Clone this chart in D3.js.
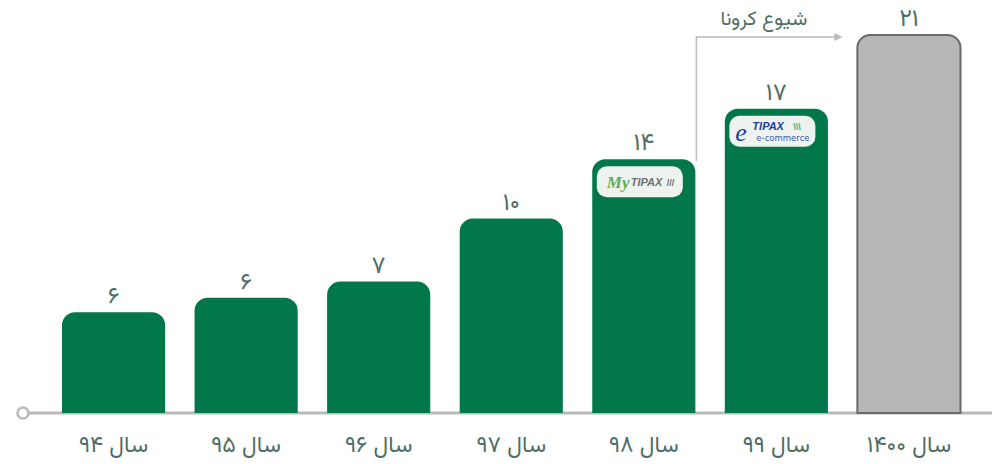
<!DOCTYPE html>
<html>
<head>
<meta charset="utf-8">
<script src="https://cdn.jsdelivr.net/npm/d3@7/dist/d3.min.js"></script>
<style>
  html, body { margin: 0; padding: 0; background: #ffffff; }
  svg { display: block; }
  text { font-family: "Vazirmatn", "Noto Sans Arabic", "DejaVu Sans", sans-serif; }
</style>
</head>
<body>
<div id="chart"></div>
<script>
// ---- data ----
const categories = ["سال ۹۴", "سال ۹۵", "سال ۹۶", "سال ۹۷", "سال ۹۸", "سال ۹۹", "سال ۱۴۰۰"];
const valueLabels = ["۶", "۶", "۷", "۱۰", "۱۴", "۱۷", "۲۱"];
const values = [6, 6, 7, 10, 14, 17, 21];
// bar heights as drawn in the picture (data units)
const drawnValues = [5.6, 6.4, 7.3, 10.8, 14.1, 16.9, 21];
const logos = [null, null, null, null, "mytipax", "etipax", null];
const annotationText = "شیوع کرونا";

const W = 992, H = 464;
const svg = d3.select("#chart").append("svg").attr("width", W).attr("height", H);

const x = d3.scaleBand().domain(categories).range([62, 960.5]).paddingInner(0.222).paddingOuter(0);
const y = d3.scaleLinear().domain([0, 21]).range([413, 35]);

const textColor = "#4e6d65";
const green = "#02784a";
const r = 13;

function topRounded(x0, y0, w, h, rr) {
  const p = d3.path();
  p.moveTo(x0, y0 + h);
  p.lineTo(x0, y0 + rr);
  p.arcTo(x0, y0, x0 + rr, y0, rr);
  p.lineTo(x0 + w - rr, y0);
  p.arcTo(x0 + w, y0, x0 + w, y0 + rr, rr);
  p.lineTo(x0 + w, y0 + h);
  p.closePath();
  return p.toString();
}

// baseline
svg.append("line")
  .attr("x1", 28).attr("x2", W).attr("y1", y(0)).attr("y2", y(0))
  .attr("stroke", "#b9babc").attr("stroke-width", 3);
svg.append("circle")
  .attr("cx", 23).attr("cy", y(0)).attr("r", 5.5)
  .attr("fill", "#fff").attr("stroke", "#b9babc").attr("stroke-width", 2.5);

// bars
const last = categories.length - 1;
svg.selectAll("path.bar").data(categories).join("path")
  .attr("class", "bar")
  .attr("d", (c, i) => topRounded(x(c), y(drawnValues[i]), x.bandwidth(), y(0) - y(drawnValues[i]), r))
  .attr("fill", (c, i) => i === last ? "#b6b7b9" : green)
  .attr("stroke", (c, i) => i === last ? "#6a6b6d" : "none")
  .attr("stroke-width", 2);

// value labels
svg.selectAll("text.val").data(categories).join("text")
  .attr("class", "val")
  .attr("x", c => x(c) + x.bandwidth() / 2)
  .attr("y", (c, i) => y(drawnValues[i]) - 9)
  .attr("text-anchor", "middle")
  .attr("font-size", 24)
  .attr("fill", textColor)
  .text((c, i) => valueLabels[i]);

// category labels
svg.selectAll("text.cat").data(categories).join("text")
  .attr("class", "cat")
  .attr("x", c => x(c) + x.bandwidth() / 2)
  .attr("y", 452)
  .attr("text-anchor", "middle")
  .attr("direction", "rtl")
  .attr("font-size", 23)
  .attr("fill", textColor)
  .text(c => c);

// logos
categories.forEach((c, i) => {
  if (!logos[i]) return;
  const cx = x(c) + x.bandwidth() / 2 - 4;
  const top = y(drawnValues[i]) + 7;
  const g = svg.append("g");
  g.append("rect")
    .attr("x", cx - 43).attr("y", top).attr("width", 86).attr("height", 31)
    .attr("rx", 10).attr("fill", "#eef3f0");
  if (logos[i] === "mytipax") {
    g.append("text").attr("x", cx - 33).attr("y", top + 22)
      .attr("font-size", 17).attr("font-style", "italic").attr("font-weight", "bold")
      .attr("fill", "#5cae5a").style("font-family", "'Liberation Serif', serif").text("My");
    g.append("text").attr("x", cx - 9).attr("y", top + 20)
      .attr("font-size", 11).attr("font-style", "italic").attr("font-weight", "bold")
      .attr("fill", "#6d6f70").style("font-family", "'Liberation Sans', sans-serif").text("TIPAX");
    g.append("text").attr("x", cx + 27).attr("y", top + 20)
      .attr("font-size", 9).attr("font-weight", "bold")
      .attr("fill", "#6d6f70").style("font-family", "'Liberation Sans', sans-serif").text("///");
  } else {
    g.append("text").attr("x", cx - 37).attr("y", top + 25)
      .attr("font-size", 26).attr("font-style", "italic")
      .attr("fill", "#1d3d9a").style("font-family", "'Liberation Serif', serif").text("e");
    g.append("text").attr("x", cx - 20).attr("y", top + 14)
      .attr("font-size", 11).attr("font-style", "italic").attr("font-weight", "bold")
      .attr("fill", "#1d3d9a").style("font-family", "'Liberation Sans', sans-serif").text("TIPAX");
    g.append("text").attr("x", cx + 21).attr("y", top + 14)
      .attr("font-size", 9).attr("font-weight", "bold")
      .attr("fill", "#4aa66a").style("font-family", "'Liberation Sans', sans-serif").text("\\\\\\");
    g.append("text").attr("x", cx - 16).attr("y", top + 25)
      .attr("font-size", 8.5)
      .attr("fill", "#3a5bb0").style("font-family", "'DejaVu Sans', sans-serif").text("e-commerce");
  }
});

// annotation (COVID outbreak)
const ax = x(categories[4]) + x.bandwidth() + 1;
const ay = y(drawnValues[last]) + 2;
const aEnd = x(categories[last]) - 22;
svg.append("path")
  .attr("d", `M${ax},${y(drawnValues[4]) + 2}V${ay}H${aEnd}`)
  .attr("fill", "none").attr("stroke", "#b9babc").attr("stroke-width", 1.5);
svg.append("path")
  .attr("d", `M${aEnd - 1},${ay - 4}L${aEnd + 7},${ay}L${aEnd - 1},${ay + 4}Z`)
  .attr("fill", "#b9babc");
svg.append("text")
  .attr("x", (ax + aEnd) / 2 - 2).attr("y", 25)
  .attr("text-anchor", "middle").attr("direction", "rtl")
  .attr("font-size", 20).attr("fill", textColor)
  .text(annotationText);
</script>
</body>
</html>
